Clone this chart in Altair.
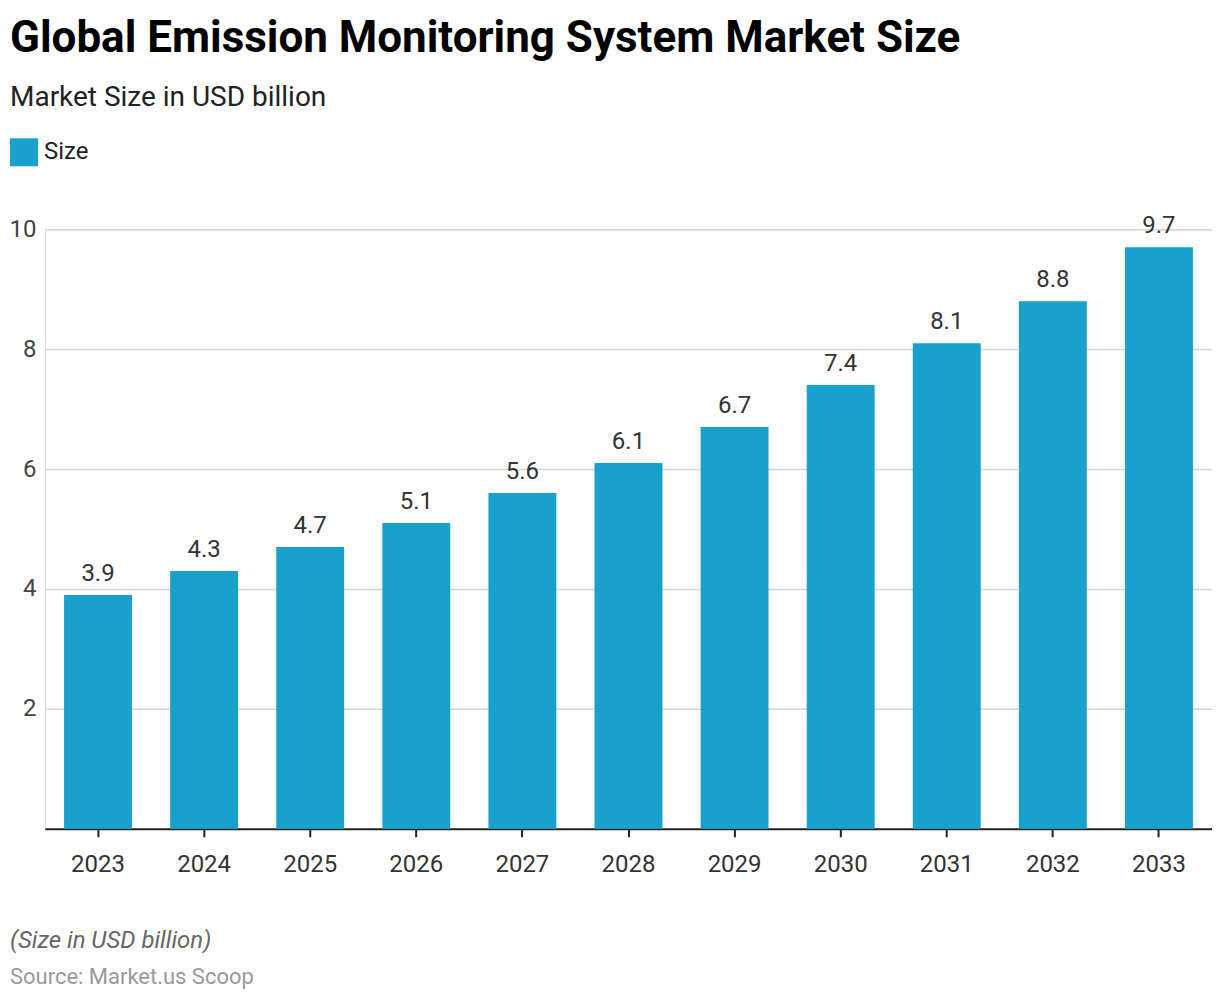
import altair as alt
import pandas as pd

years = ["2023", "2024", "2025", "2026", "2027", "2028", "2029", "2030", "2031", "2032", "2033"]
sizes = [3.9, 4.3, 4.7, 5.1, 5.6, 6.1, 6.7, 7.4, 8.1, 8.8, 9.7]
y_ticks = [2, 4, 6, 8, 10]

title_text = "Global Emission Monitoring System Market Size"
subtitle_text = "Market Size in USD billion"
note_text = "(Size in USD billion)"
source_text = "Source: Market.us Scoop"

df = pd.DataFrame({"Year": years, "Value": sizes, "Series": ["Size"] * len(years)})

FONT = "Roboto"
BAR = "#19A1CD"

x_enc = alt.X("Year:N", sort=years, title=None,
              scale=alt.Scale(paddingInner=0.36, paddingOuter=0.18),
              axis=alt.Axis(labelAngle=0, labelFontSize=24, labelColor="#333333",
                            labelFont=FONT, domainColor="#222222", domainWidth=2,
                            tickColor="#222222", tickWidth=2, tickSize=8,
                            labelPadding=16, grid=False))
y_enc = alt.Y("Value:Q", title=None,
              scale=alt.Scale(domain=[0, 10], nice=False),
              axis=alt.Axis(values=y_ticks, format="d", labelFontSize=24,
                            labelColor="#444444", labelFont=FONT, domain=False,
                            ticks=False, labelPadding=9,
                            gridColor="#D4D4D4", gridWidth=1.5))

bars = alt.Chart(df).mark_bar(color=BAR).encode(
    x=x_enc,
    y=y_enc,
    color=alt.Color("Series:N", scale=alt.Scale(range=[BAR]), title=None,
                    legend=alt.Legend(orient="none", legendX=-35, legendY=-91,
                                      symbolType="square", symbolSize=784,
                                      symbolStrokeWidth=0, labelFontSize=24,
                                      labelFont=FONT, labelColor="#222222",
                                      labelOffset=6, direction="horizontal")),
)

labels = alt.Chart(df).mark_text(baseline="alphabetic", dy=-14, fontSize=24,
                                 font=FONT, color="#333333").encode(
    x=alt.X("Year:N", sort=years),
    y="Value:Q",
    text=alt.Text("Value:Q", format=".1f"),
)

def txt(s, y, size, color, weight="normal", style="normal"):
    return alt.Chart(pd.DataFrame({"t": [s]})).mark_text(
        align="left", baseline="alphabetic", fontSize=size, font=FONT,
        color=color, fontWeight=weight, fontStyle=style
    ).encode(text="t:N", x=alt.value(-35), y=alt.value(y))

title = txt(title_text, -177, 44, "#000000", weight="bold")
subtitle = txt(subtitle_text, -123, 28, "#222222")
note = txt(note_text, 719, 24, "#666666", style="italic")
source = txt(source_text, 755, 22, "#999999")

chart = alt.layer(bars, labels, title, subtitle, note, source).properties(
    width=1168, height=600,
    autosize=alt.AutoSizeParams(type="none"),
    padding={"left": 37, "top": 221, "right": 0, "bottom": 160},
).configure_view(stroke=None).configure(background="white")

chart.save("out.html", embed_options={"renderer": "svg", "actions": False})
